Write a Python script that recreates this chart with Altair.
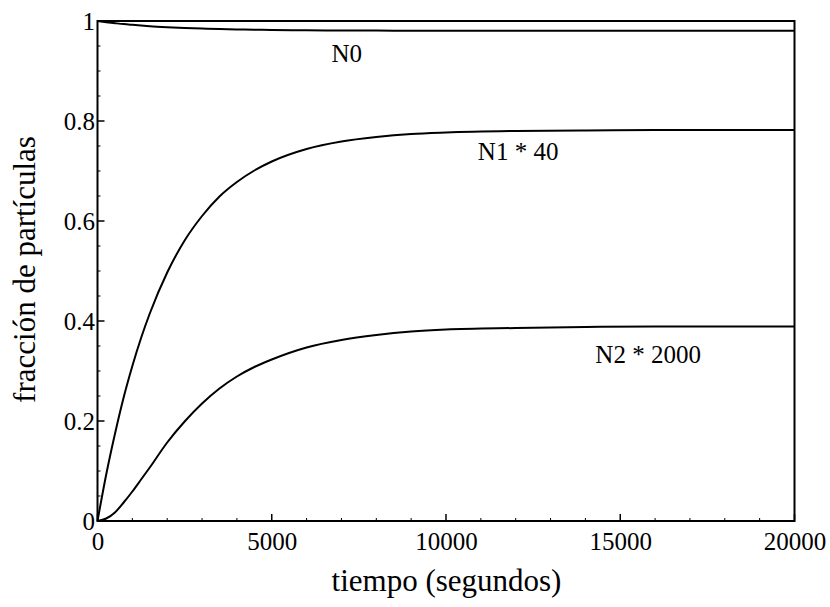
import altair as alt
import pandas as pd

# ---- data ----
time_s = [0, 250, 500, 750, 1000, 1250, 1500, 2000, 2500, 3000, 3500, 4000,
          4500, 5000, 6000, 7000, 8000, 9000, 10000, 12000, 14000, 16000, 18000, 20000]
n0 = [1.0, 0.9977, 0.9957, 0.9938, 0.9923, 0.9909, 0.9896, 0.9876, 0.986, 0.9848,
      0.9838, 0.9831, 0.9825, 0.982, 0.9814, 0.981, 0.9808, 0.9807, 0.9806,
      0.9805, 0.9805, 0.9805, 0.9805, 0.9805]
n1_x40 = [0.0, 0.093, 0.174, 0.247, 0.310, 0.366, 0.415, 0.497, 0.561, 0.610,
          0.649, 0.678, 0.701, 0.719, 0.744, 0.759, 0.768, 0.774, 0.777,
          0.780, 0.781, 0.782, 0.782, 0.782]
n2_x2000 = [0.0, 0.005, 0.017, 0.037, 0.059, 0.083, 0.107, 0.157, 0.199, 0.235,
            0.265, 0.289, 0.308, 0.323, 0.347, 0.362, 0.372, 0.379, 0.383,
            0.386, 0.388, 0.389, 0.389, 0.389]

label_text = ["N0", "N1 * 40", "N2 * 2000"]
label_t = [7150, 12070, 15800]
label_v = [0.934, 0.738, 0.332]

x_major = [0, 5000, 10000, 15000, 20000]
x_minor = [1000, 2000, 3000, 4000, 6000, 7000, 8000, 9000, 11000, 12000, 13000,
           14000, 16000, 17000, 18000, 19000]
y_major = [0, 0.2, 0.4, 0.6, 0.8, 1.0]
y_minor = [0.05, 0.1, 0.15, 0.25, 0.3, 0.35, 0.45, 0.5, 0.55, 0.65, 0.7, 0.75,
           0.85, 0.9, 0.95]

# ---- tables ----
rows = []
for name, series in [("N0", n0), ("N1", n1_x40), ("N2", n2_x2000)]:
    for t, v in zip(time_s, series):
        rows.append({"t": t, "v": v, "serie": name})
lines_df = pd.DataFrame(rows)
labels_df = pd.DataFrame({"texto": label_text, "t": label_t, "v": label_v})

W, H = 697, 500
FONT = "Liberation Serif"

xscale = alt.Scale(domain=[0, 20000], nice=False, zero=False)
yscale = alt.Scale(domain=[0, 1], nice=False, zero=False)

x_axis = alt.Axis(values=x_major, format="d", title="tiempo (segundos)",
                  ticks=False, tickSize=0, labelPadding=8, domain=False,
                  grid=False, labelFontSize=25, labelFont=FONT,
                  labelColor="black", titleFont=FONT, titleFontSize=31,
                  titleFontWeight="normal", titleColor="black",
                  titleBaseline="alphabetic", titleY=69,
                  labelFlush=False, labelOverlap=False)
y_axis = alt.Axis(values=y_major, format=".1~f",
                  title="fracción de partículas",
                  ticks=False, tickSize=0, labelPadding=3, domain=False,
                  grid=False, labelFontSize=25, labelFont=FONT,
                  labelColor="black", titleFont=FONT, titleFontSize=31,
                  titleFontWeight="normal", titleColor="black",
                  titleAngle=270, titleBaseline="alphabetic",
                  titleAlign="center", titleX=-63, titleY=248,
                  labelFlush=False, labelOverlap=False)

lines = alt.Chart(lines_df).mark_line(
    color="black", strokeWidth=2, interpolate="monotone"
).encode(
    x=alt.X("t:Q", scale=xscale, axis=x_axis, title="tiempo (segundos)"),
    y=alt.Y("v:Q", scale=yscale, axis=y_axis, title="fracción de partículas"),
    detail="serie:N",
)

labels = alt.Chart(labels_df).mark_text(
    font=FONT, fontSize=25, color="black", align="center", baseline="middle"
).encode(
    x=alt.X("t:Q", scale=xscale),
    y=alt.Y("v:Q", scale=yscale),
    text="texto:N",
)

xmaj = alt.Chart(pd.DataFrame({"t": x_major})).mark_rule(
    color="black", strokeWidth=1.5
).encode(x=alt.X("t:Q", scale=xscale),
         y=alt.value(H), y2=alt.value(H - 7))
xmin = alt.Chart(pd.DataFrame({"t": x_minor})).mark_rule(
    color="black", strokeWidth=1
).encode(x=alt.X("t:Q", scale=xscale),
         y=alt.value(H), y2=alt.value(H - 3))
ymaj = alt.Chart(pd.DataFrame({"v": y_major})).mark_rule(
    color="black", strokeWidth=1.5
).encode(y=alt.Y("v:Q", scale=yscale),
         x=alt.value(0), x2=alt.value(7))
ymin = alt.Chart(pd.DataFrame({"v": y_minor})).mark_rule(
    color="black", strokeWidth=1
).encode(y=alt.Y("v:Q", scale=yscale),
         x=alt.value(0), x2=alt.value(3))

chart = alt.layer(lines, labels, xmaj, xmin, ymaj, ymin).properties(
    width=W, height=H,
    autosize=alt.AutoSizeParams(type="none"),
    padding={"left": 97.5, "top": 21, "right": 35.5, "bottom": 86},
    background="white",
).configure_axis(
    labelFont=FONT, titleFont=FONT, labelColor="black", titleColor="black"
).configure_text(
    font=FONT
).configure_view(
    stroke="black", strokeWidth=2
)

chart.save("out.html", embed_options={"renderer": "svg", "actions": False})
